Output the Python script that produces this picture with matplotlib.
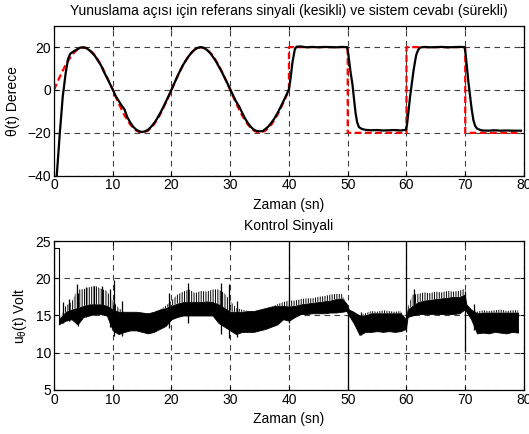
import numpy as np
import matplotlib.pyplot as plt

plt.rcParams['font.family'] = ['Liberation Sans', 'DejaVu Sans']
plt.rcParams['font.size'] = 10
plt.rcParams['mathtext.fontset'] = 'custom'
plt.rcParams['mathtext.rm'] = 'Liberation Sans'
plt.rcParams['mathtext.it'] = 'Liberation Sans'
plt.rcParams['hatch.linewidth'] = 0.7

# ---------------- referans sinyali (kesikli) ----------------
ref_t = [0, 1, 2, 3, 4, 5, 6, 7, 8, 9, 10, 11, 12, 13, 14, 15, 16, 17, 18, 19, 20,
         21, 22, 23, 24, 25, 26, 27, 28, 29, 30, 31, 32, 33, 34, 35, 36, 37, 38, 39, 40,
         40, 50, 50, 60, 60, 70, 70, 79.5]
ref_deg = [0, 6.2, 11.8, 16.2, 19.0, 20, 19.0, 16.2, 11.8, 6.2, 0, -6.2, -11.8, -16.2, -19.0, -20,
           -19.0, -16.2, -11.8, -6.2, 0, 6.2, 11.8, 16.2, 19.0, 20, 19.0, 16.2, 11.8, 6.2, 0,
           -6.2, -11.8, -16.2, -19.0, -20, -19.0, -16.2, -11.8, -6.2, 0,
           20, 20, -20, -20, 20, 20, -20, -20]

# ---------------- sistem cevabi (surekli) ----------------
resp_t = [0.3, 0.5, 1.0, 1.5, 2.0, 2.4, 2.8, 3.5, 4.0, 4.5,
          5, 5.5, 6, 6.5, 7, 7.5, 8, 8.5, 9, 9.5, 10, 10.5, 11, 11.5, 12, 12.5, 13, 13.5, 14, 14.5,
          15, 15.5, 16, 16.5, 17, 17.5, 18, 18.5, 19, 19.5, 20, 20.5, 21, 21.5, 22, 22.5, 23, 23.5,
          24, 24.5, 25, 25.5, 26, 26.5, 27, 27.5, 28, 28.5, 29, 29.5, 30, 30.5, 31, 31.5, 32, 32.5,
          33, 33.5, 34, 34.5, 35, 35.5, 36, 36.5, 37, 37.5, 38, 38.5, 39, 39.5, 40,
          40.3, 40.6, 41.0, 41.3, 42, 43, 44, 45, 46, 47, 48, 49, 49.9,
          50.1, 50.5, 50.8, 51.1, 51.35, 51.6, 51.9, 52.4, 53, 54, 55, 56, 57, 58, 59, 59.9,
          60.1, 60.35, 60.6, 60.9, 61.2, 61.5, 61.7, 62.0, 62.3, 63, 64, 65, 66, 67, 68, 69, 69.9,
          70.1, 70.3, 70.55, 70.85, 71.1, 71.4, 71.7, 72.0, 72.5, 72.9, 74, 75, 76, 77, 78, 79.5]
resp_deg = [-46, -39, -20, -3, 8, 14.5, 17.0, 18.3, 19.0, 19.8,
            19.8, 19.6, 18.6, 17.3, 15.8, 13.6, 11.5, 8.5, 5.8, 3.0, 0.3, -2.8, -5.0, -7.2, -9.0,
            -12.8, -15.2, -17.2, -18.5, -19.3,
            -19.6, -19.3, -18.6, -17.3, -15.6, -13.6, -11.2, -8.6, -5.8, -2.9, 0.1, 3.2, 6.3, 9.2,
            11.8, 14.0, 16.0, 17.7,
            18.9, 19.7, 20.0, 19.7, 18.8, 17.5, 15.7, 13.7, 11.3, 8.8, 6.0, 3.2, 0.4, -2.6, -5.4,
            -7.6, -10.4, -13.2,
            -15.4, -17.2, -18.5, -19.1, -19.3, -19.2, -18.2, -17.0, -15.3, -13.4, -11.0, -8.4,
            -5.6, -2.7, 0.3,
            6, 13, 19.0, 20.2, 20.3, 19.9, 20.1, 19.9, 20.1, 20.0, 19.9, 20.1, 20.0,
            16.7, 8, 2.8, -5, -11, -15, -17.3, -18.2, -18.6, -18.8, -18.7, -18.9, -18.8, -18.7,
            -18.9, -18.6,
            -16, -10, -3.4, 3, 9, 14, 16.7, 18.7, 19.8, 20.1, 19.9, 20.0, 20.1, 19.9, 20.0, 20.1,
            20.0,
            16, 10.5, 3.5, -3.4, -9, -14.2, -16.8, -18.0, -18.6, -18.9, -19.0, -18.8, -19.0,
            -18.9, -19.0, -19.0]

# ---------------- kontrol sinyali: alt sinir, yogun cekirdek ustu, salinim ustu ----------------
u_t = [0.85, 1, 2, 3, 4, 5, 6, 7, 8, 9, 10, 11, 12, 13, 14, 15, 16, 17, 18, 19, 20,
       21, 22, 23, 24, 25, 26, 27, 28, 29, 30, 31, 32, 33, 34, 35, 36, 37, 38, 39, 40,
       41, 42, 43, 44, 45, 46, 47, 48, 49, 49.8, 50.2, 51, 52, 53, 54, 55, 56, 57, 58, 59,
       59.9, 60.2, 61, 62, 63, 64, 65, 66, 67, 68, 69, 69.9, 70.2, 71, 72, 73, 74, 75, 76,
       77, 78, 79]
u_low = [13.8, 13.9, 14.3, 14.5, 13.8, 14.8, 15.0, 15.2, 15.2, 15.0, 13.0, 12.5, 12.8, 13.0,
         13.0, 12.8, 12.6, 12.8, 13.2, 13.6, 14.5,
         14.8, 15.0, 15.0, 15.0, 15.0, 15.0, 15.0, 14.0, 13.5, 13.0, 12.5, 12.8, 12.8, 12.8,
         13.0, 13.2, 13.5, 13.8, 14.5, 14.3,
         14.8, 15.2, 15.2, 15.3, 15.3, 15.3, 15.4, 15.4, 15.5, 15.6, 15.0, 14.0, 12.4, 12.8,
         12.8, 12.9, 12.8, 12.9, 12.8, 12.9,
         13.2, 14.8, 15.0, 15.2, 15.2, 15.2, 15.2, 15.2, 15.2, 15.2, 15.3, 15.8, 15.5, 14.5,
         12.6, 12.7, 12.6, 12.8, 12.7, 12.6, 12.8, 12.7]
u_core = [14.2, 14.6, 15.5, 15.8, 16.0, 16.3, 16.5, 16.5, 16.5, 16.3, 15.8, 15.5, 15.5, 15.5,
          15.5, 15.4, 15.3, 15.5, 15.8, 16.0, 16.3,
          16.6, 16.8, 16.8, 16.8, 16.8, 16.9, 16.8, 16.5, 16.0, 15.5, 15.5, 15.5, 15.6, 15.6,
          15.8, 16.0, 16.2, 16.3, 16.3, 16.2,
          16.3, 16.5, 16.6, 16.7, 16.8, 16.9, 17.0, 17.2, 17.3, 16.6, 15.8, 15.5, 15.0, 15.0,
          15.3, 15.3, 15.3, 15.3, 15.3, 15.3,
          14.5, 15.8, 16.3, 16.8, 17.0, 17.1, 17.2, 17.3, 17.4, 17.5, 17.5, 17.8, 16.5, 15.8,
          15.3, 15.4, 15.4, 15.4, 15.4, 15.4, 15.4, 15.4]
u_high = [14.2, 14.6, 16.3, 16.8, 18.5, 18.5, 18.8, 19.0, 18.6, 18.3, 17.0, 16.0, 15.5, 15.5,
          15.5, 15.4, 15.3, 15.5, 15.8, 16.3, 17.0,
          17.8, 18.2, 18.5, 18.0, 18.3, 18.2, 18.5, 18.5, 18.0, 17.0, 16.0, 15.8, 15.6, 15.6,
          15.8, 16.0, 16.2, 16.5, 16.8, 17.0,
          17.0, 17.2, 17.3, 17.3, 17.5, 17.6, 17.8, 17.9, 17.9, 16.6, 15.8, 15.5, 15.0, 15.3,
          15.6, 15.5, 15.7, 15.6, 15.5, 15.6,
          14.5, 16.0, 17.8, 17.9, 18.1, 18.0, 18.2, 18.1, 18.3, 18.2, 18.3, 18.6, 16.5, 15.8,
          15.5, 15.7, 15.6, 15.7, 15.8, 15.6, 15.7, 15.7]

# baslangicta doyum (24 V)
u_start_t = [0, 0, 0.85, 0.85]
u_start = [15, 24.1, 24.1, 13.8]

# tekil sicramalar: zaman, alt, ust
spike_t = [1.6, 2.6, 3.9, 4.1, 5.5, 6.8, 8.2, 9.5, 10.2, 11.5, 19.6, 22.8, 28.5, 29.8, 31.2,
           40, 50, 52.2, 60, 61.3, 70, 71.5]
spike_low = [14.0, 14.2, 14.0, 13.6, 14.8, 15.0, 15.0, 13.5, 12.3, 12.2, 13.3, 14.0, 12.5,
             12.0, 12.1, 14.0, 5.0, 12.4, 12.8, 15.0, 10.1, 13.0]
spike_high = [16.8, 17.2, 19.2, 18.0, 18.8, 19.0, 19.0, 18.5, 19.7, 17.0, 18.0, 19.3, 19.3,
              19.2, 17.0, 25.0, 15.8, 15.5, 25.0, 18.6, 18.3, 16.5]


def matlab_axes(ax):
    ax.tick_params(direction='in', top=True, right=True, length=3, width=0.8, labelsize=10,
                   pad=2)
    for s in ax.spines.values():
        s.set_linewidth(0.9)
    ax.grid(True, color='0.25', linestyle=(0, (5, 4)), linewidth=0.8)
    ax.set_axisbelow(True)


fig = plt.figure(figsize=(5.29, 4.34), dpi=100)
ax1 = fig.add_axes([0.102, 0.5952, 0.8885, 0.3456])
ax2 = fig.add_axes([0.102, 0.1014, 0.8885, 0.3433])

# ust grafik: yunuslama acisi
ax1.plot(ref_t, ref_deg, color='red', linewidth=1.6, linestyle=(0, (3, 1.6)))
ax1.plot(resp_t, resp_deg, color='black', linewidth=1.6)
ax1.set_xlim(0, 80)
ax1.set_ylim(-40, 30)
ax1.set_xticks(np.arange(0, 81, 10))
ax1.set_yticks([-40, -20, 0, 20])
matlab_axes(ax1)
ax1.set_title('Yunuslama açısı için referans sinyali (kesikli) ve sistem cevabı (sürekli)',
              fontsize=10, pad=8)
ax1.set_xlabel('Zaman (sn)', labelpad=4)
ax1.set_ylabel('θ(t) Derece', labelpad=5)

# alt grafik: kontrol sinyali
ax2.fill_between(u_t, u_low, u_core, color='black', linewidth=0.6)
ax2.fill_between(u_t, u_core, u_high, facecolor='none', edgecolor='black', hatch='|||||||',
                 linewidth=0)
ax2.plot(u_start_t, u_start, color='black', linewidth=0.8)
ax2.vlines(spike_t, spike_low, spike_high, color='black', linewidth=0.9)
ax2.set_xlim(0, 80)
ax2.set_ylim(5, 25)
ax2.set_xticks(np.arange(0, 81, 10))
ax2.set_yticks([5, 10, 15, 20, 25])
matlab_axes(ax2)
ax2.set_title('Kontrol Sinyali', fontsize=10, pad=8)
ax2.set_xlabel('Zaman (sn)', labelpad=4)
ax2.set_ylabel(r'u$_\theta$(t) Volt', labelpad=5)

fig.savefig('out.png', dpi=100)
